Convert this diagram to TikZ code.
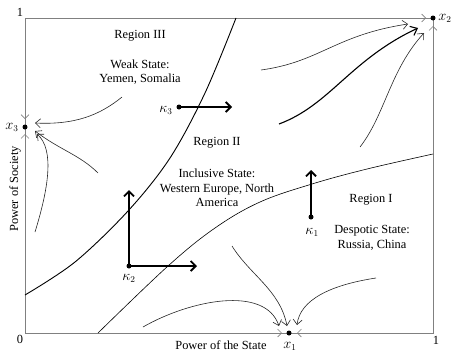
\documentclass[tikz,border=0pt]{standalone}
\usepackage{fontspec}
\setmainfont{Liberation Serif}
\usetikzlibrary{arrows.meta}
\begin{document}
\begin{tikzpicture}[x=1pt,y=-1pt,
  txt/.style={font=\fontsize{12.4}{14.5}\selectfont, align=center, inner sep=0pt},
  nlab/.style={font=\fontsize{12.4}{14}\selectfont, inner sep=0pt},
  mlab/.style={font=\fontsize{13.5}{14}\selectfont, inner sep=0pt},
  dot/.style={circle, fill=black, inner sep=0pt, minimum size=5pt},
  frame/.style={draw=gray, line width=0.7pt},
  boundary/.style={draw=black, line width=0.9pt},
  boundarythin/.style={draw=black, line width=0.6pt},
  flow/.style={draw=black!85, line width=0.6pt, -{Straight Barb[length=5pt,width=9pt]}},
  flowbold/.style={draw=black, line width=1.1pt, -{Straight Barb[length=6pt,width=10pt]}},
  axtip/.style={draw=gray, line width=0.6pt, -{Straight Barb[length=4pt,width=8pt]}},
  thickarr/.style={draw=black, line width=1.8pt, -{Straight Barb[length=5pt,width=10pt]}}
]
\useasboundingbox (0,0) rectangle (452,351);

% frame
\draw[frame] (25,18) rectangle (433,333);

% corner labels
\node[nlab] (one1) at (20,12) {1};
\node[nlab] (zero) at (20,339) {0};
\node[nlab] (one2) at (436,340) {1};

% axis labels
\node[txt] (xlab) at (221,345) {Power of the State};
\node[txt, rotate=90] (ylab) at (15,189) {Power of Society};

% boundary curves
\draw[boundary] plot[smooth, tension=0.55] coordinates {(25,295) (75,262) (128,211) (170,158) (205,93) (236,18)};
\draw[boundarythin] plot[smooth, tension=0.6] coordinates {(98,333) (168,266) (215,228) (260,202) (312,184) (367,169) (433,154)};

% steady states
\node[dot] (x1) at (289,333) {};
\node[dot] (x2) at (433,18) {};
\node[dot] (x3) at (25,127) {};
\node[mlab] (x1l) at (290,346) {$x_1$};
\node[mlab] (x2l) at (445,18) {$x_2$};
\node[mlab] (x3l) at (12,127) {$x_3$};

% axis arrow tips toward the dots
\coordinate (a1s) at (272,333); \coordinate (a1e) at (282,333);
\coordinate (a2s) at (307,333); \coordinate (a2e) at (297,333);
\coordinate (b1s) at (416,18);  \coordinate (b1e) at (426,18);
\coordinate (b2s) at (433,36);  \coordinate (b2e) at (433,26);
\coordinate (c1s) at (25,109);  \coordinate (c1e) at (25,119);
\coordinate (c2s) at (25,144);  \coordinate (c2e) at (25,134);
\draw[axtip] (a1s) -- (a1e);
\draw[axtip] (a2s) -- (a2e);
\draw[axtip] (b1s) -- (b1e);
\draw[axtip] (b2s) -- (b2e);
\draw[axtip] (c1s) -- (c1e);
\draw[axtip] (c2s) -- (c2e);

% flow curves toward x3
\coordinate (f1s) at (122,97);  \coordinate (f1e) at (35,123);
\coordinate (f2s) at (98,173);  \coordinate (f2e) at (35,131);
\coordinate (f3s) at (35,232);  \coordinate (f3e) at (37,134);
\draw[flow] (f1s) .. controls (100,115) and (75,125) .. (f1e);
\draw[flow] (f2s) .. controls (80,155) and (60,150) .. (f2e);
\draw[flow] (f3s) .. controls (48,190) and (55,150) .. (f3e);

% flow curves toward x2
\coordinate (f4s) at (261,70);  \coordinate (f4e) at (408,24);
\coordinate (f5s) at (279,124); \coordinate (f5e) at (418,28);
\coordinate (f6s) at (360,147); \coordinate (f6e) at (424,33);
\draw[flow] (f4s) .. controls (320,62) and (335,35) .. (f4e);
\draw[flowbold] (f5s) .. controls (330,105) and (350,60) .. (f5e);
\draw[flow] (f6s) .. controls (385,115) and (390,70) .. (f6e);

% flow curves toward x1
\coordinate (f7s) at (143,327); \coordinate (f7e) at (279,326);
\coordinate (f8s) at (232,246); \coordinate (f8e) at (287,326);
\coordinate (f9s) at (376,278); \coordinate (f9e) at (297,325);
\draw[flow] (f7s) .. controls (190,300) and (265,285) .. (f7e);
\draw[flow] (f8s) .. controls (250,275) and (280,290) .. (f8e);
\draw[flow] (f9s) .. controls (330,285) and (300,300) .. (f9e);

% kappa points and thick arrows
\node[dot] (k3) at (179,107) {};
\node[dot] (k2) at (129,266) {};
\node[dot] (k1) at (311,217) {};
\node[mlab] (k3l) at (166,110) {$\kappa_3$};
\node[mlab] (k2l) at (129,278) {$\kappa_2$};
\node[mlab] (k1l) at (312,232) {$\kappa_1$};
\coordinate (k3r) at (232,107);
\coordinate (k2u) at (129,190);
\coordinate (k2r) at (197,266);
\coordinate (k1u) at (311,170);
\draw[thickarr] (k3.center) -- (k3r);
\draw[thickarr] (k2.center) -- (k2u);
\draw[thickarr] (k2.center) -- (k2r);
\draw[thickarr] (k1.center) -- (k1u);

% region texts
\node[txt] (r3) at (140,36) {Region III};
\node[txt] (r3d) at (140,72) {Weak State:\\Yemen, Somalia};
\node[txt] (r2) at (217,143) {Region II};
\node[txt] (r2d) at (217,188) {Inclusive State:\\Western Europe, North\\America};
\node[txt] (r1) at (371,200) {Region I};
\node[txt] (r1d) at (372,238) {Despotic State:\\Russia, China};
\end{tikzpicture}
\end{document}
